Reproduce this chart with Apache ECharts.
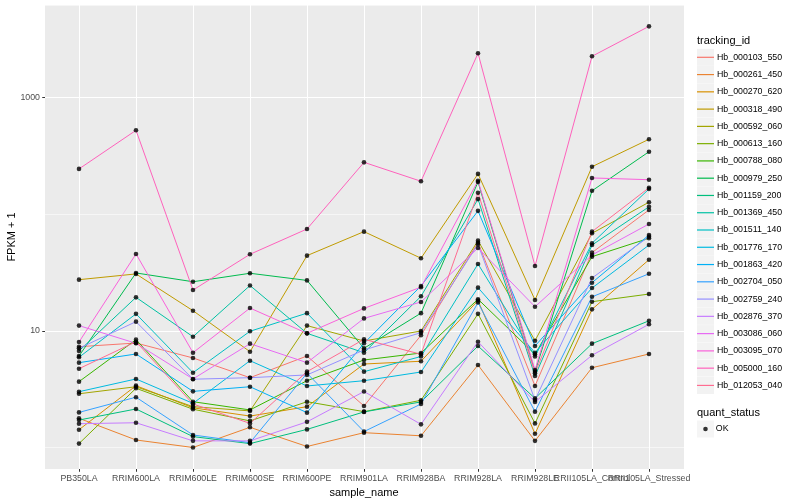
<!DOCTYPE html>
<html>
<head>
<meta charset="utf-8">
<script src="https://cdn.jsdelivr.net/npm/echarts@6/dist/echarts.min.js"></script>
<style>html,body{margin:0;padding:0;background:#fff}#c{width:800px;height:500px}</style>
</head>
<body>
<div id="c"></div>
<script>
// ---------- data ----------
const categories = ['PB350LA','RRIM600LA','RRIM600LE','RRIM600SE','RRIM600PE','RRIM901LA','RRIM928BA','RRIM928LA','RRIM928LE','RRII105LA_Control','RRII105LA_Stressed'];
const trackingIds = ['Hb_000103_550','Hb_000261_450','Hb_000270_620','Hb_000318_490','Hb_000592_060','Hb_000613_160','Hb_000788_080','Hb_000979_250','Hb_001159_200','Hb_001369_450','Hb_001511_140','Hb_001776_170','Hb_001863_420','Hb_002704_050','Hb_002759_240','Hb_002876_370','Hb_003086_060','Hb_003095_070','Hb_005000_160','Hb_012053_040'];
const seriesColors = ['#F8766D','#EA8331','#D89000','#C09B00','#A3A500','#7CAE00','#39B600','#00BB4E','#00BF7D','#00C1A3','#00BFC4','#00BAE0','#00B0F6','#35A2FF','#9590FF','#C77CFF','#E76BF3','#FA62DB','#FF62BC','#FF6C91'];
const quantStatus = ['OK'];
const yTickLabels = [10, 1000];

// FPKM + 1 per sample (order = categories)
const Hb_000103_550 = [7.32, 7.87, 5.86, 3.97, 6.09, 2.27, 9.17, 57.1, 3.37, 46.9, 109];
const Hb_000261_450 = [1.78, 1.16, 1.00, 1.49, 1.02, 1.34, 1.26, 5.10, 1.14, 4.83, 6.34];
const Hb_000270_620 = [1.42, 3.39, 2.19, 1.86, 2.24, 5.20, 5.49, 18.2, 1.31, 15.3, 40.8];
const Hb_000318_490 = [27.5, 30.8, 14.9, 6.63, 44.2, 71.0, 42.0, 222, 18.4, 256, 440];
const Hb_000592_060 = [2.89, 3.32, 2.24, 2.06, 11.1, 8.19, 9.98, 59.4, 8.24, 68.7, 127];
const Hb_000613_160 = [1.08, 3.22, 2.13, 1.69, 2.47, 2.03, 2.54, 14.0, 1.61, 17.8, 20.7];
const Hb_000788_080 = [3.67, 8.41, 2.47, 2.10, 3.74, 5.63, 6.46, 18.7, 6.30, 43.3, 62.3];
const Hb_000979_250 = [6.09, 31.4, 26.4, 31.2, 27.1, 7.09, 14.2, 189, 4.47, 159, 344];
const Hb_001159_200 = [1.72, 2.14, 1.24, 1.08, 1.43, 2.02, 2.46, 7.42, 2.64, 7.77, 12.2];
const Hb_001369_450 = [6.73, 19.4, 8.91, 24.5, 9.53, 6.50, 19.8, 135, 4.10, 54.5, 116];
const Hb_001511_140 = [5.94, 14.0, 4.38, 9.93, 14.2, 4.47, 6.03, 37.5, 6.03, 56.4, 165];
const Hb_001776_170 = [3.01, 3.87, 2.39, 5.55, 3.37, 3.74, 4.44, 23.5, 6.50, 23.3, 54.5];
const Hb_001863_420 = [5.34, 6.34, 3.03, 3.32, 1.99, 7.83, 24.3, 107, 7.42, 25.9, 66.4];
const Hb_002704_050 = [2.00, 2.70, 1.28, 1.10, 4.33, 1.37, 2.36, 17.5, 2.03, 19.6, 30.9];
const Hb_002759_240 = [7.09, 12.0, 3.85, 3.97, 4.19, 6.86, 9.66, 55.3, 2.55, 28.4, 64.3];
const Hb_002876_370 = [1.60, 1.63, 1.14, 1.14, 1.66, 3.02, 1.58, 8.08, 2.46, 6.18, 11.4];
const Hb_003086_060 = [11.1, 7.83, 3.87, 7.77, 5.34, 12.8, 17.7, 51.4, 16.1, 44.8, 82.6];
const Hb_003095_070 = [8.03, 45.7, 6.50, 15.7, 9.53, 15.6, 23.7, 194, 4.62, 205, 198];
const Hb_005000_160 = [245, 525, 22.4, 45.4, 74.8, 279, 192, 2404, 36.0, 2265, 4093];
const Hb_012053_040 = [4.74, 8.08, 2.36, 1.61, 4.47, 8.47, 6.30, 153, 4.33, 71.0, 169];

const seriesValues = [Hb_000103_550, Hb_000261_450, Hb_000270_620, Hb_000318_490, Hb_000592_060, Hb_000613_160, Hb_000788_080, Hb_000979_250, Hb_001159_200, Hb_001369_450, Hb_001511_140, Hb_001776_170, Hb_001863_420, Hb_002704_050, Hb_002759_240, Hb_002876_370, Hb_003086_060, Hb_003095_070, Hb_005000_160, Hb_012053_040];

// ---------- chart ----------
const FONT = '"Liberation Sans", Arial, Helvetica, sans-serif';
const Y_MIN = 0.654, Y_MAX = 6237;
const chart = echarts.init(document.getElementById('c'));

const lineSeries = trackingIds.map((id, i) => ({
  name: id, type: 'line', xAxisIndex: 1, yAxisIndex: 1,
  data: seriesValues[i], symbol: 'none', silent: true,
  color: seriesColors[i],
  itemStyle: { color: seriesColors[i] },
  lineStyle: { width: 1, color: seriesColors[i] },
  z: 2
}));
const points = [];
seriesValues.forEach(vals => vals.forEach((v, j) => points.push([categories[j], v])));
const okSeries = {
  name: quantStatus[0], type: 'scatter', xAxisIndex: 1, yAxisIndex: 1,
  data: points, symbol: 'circle', symbolSize: 4.6, silent: true,
  itemStyle: { color: '#000000' }, z: 3
};

const legendBase = {
  orient: 'vertical', left: 692, selectedMode: false,
  itemGap: 0.27, padding: 5
};

const option = {
  animation: false,
  textStyle: { fontFamily: FONT },
  title: [
    { text: 'tracking_id', left: 697, top: 35, padding: 0,
      textStyle: { fontSize: 11, fontWeight: 'normal', color: '#000', fontFamily: FONT } },
    { text: 'quant_status', left: 697, top: 407, padding: 0,
      textStyle: { fontSize: 11, fontWeight: 'normal', color: '#000', fontFamily: FONT } }
  ],
  legend: [
    Object.assign({}, legendBase, {
      data: trackingIds, top: 43.8, icon: 'rect', itemWidth: 17, itemHeight: 17,
      itemStyle: { color: '#F2F2F2', borderWidth: 0 }, formatter: () => '',
      textStyle: { fontSize: 8.8, lineHeight: 17 }
    }),
    Object.assign({}, legendBase, {
      data: trackingIds, top: 43.8, icon: 'rect', itemWidth: 17, itemHeight: 1.2,
      textStyle: { fontSize: 8.8, lineHeight: 17, color: '#000', fontFamily: FONT, padding: [0, 0, 0, -2] }
    }),
    Object.assign({}, legendBase, {
      data: quantStatus, top: 415.5, icon: 'rect', itemWidth: 17, itemHeight: 17,
      itemStyle: { color: '#F2F2F2', borderWidth: 0 }, formatter: () => '',
      textStyle: { fontSize: 8.8, lineHeight: 17 }
    }),
    Object.assign({}, legendBase, {
      data: quantStatus, top: 415.5, left: 698.2, icon: 'circle', itemWidth: 4.6, itemHeight: 4.6,
      itemStyle: { color: '#000' },
      textStyle: { fontSize: 8.8, lineHeight: 17, color: '#000', fontFamily: FONT, padding: [0, 0, 0, 3] }
    })
  ],
  grid: [
    { left: 45, top: 5, width: 639, height: 464, show: true, backgroundColor: '#EBEBEB', borderWidth: 0,
      containLabel: false, outerBoundsMode: 'none' },
    { left: 79, top: 5, width: 570, height: 464, show: false, containLabel: false, outerBoundsMode: 'none' }
  ],
  xAxis: [
    { gridIndex: 0, type: 'value', show: false, min: 0, max: 1 },
    { gridIndex: 1, type: 'category', data: categories, boundaryGap: false,
      axisLine: { show: false },
      axisTick: { show: true, length: 2.75, lineStyle: { color: '#333333', width: 1 } },
      axisLabel: { interval: 0, hideOverlap: false, fontSize: 8.8, color: '#4D4D4D', margin: 5, fontFamily: FONT },
      splitLine: { show: true, interval: 0, lineStyle: { color: '#FFFFFF', width: 1 } },
      name: 'sample_name', nameLocation: 'middle', nameGap: 14,
      nameTextStyle: { fontSize: 11, color: '#000', fontFamily: FONT }
    }
  ],
  yAxis: [
    { gridIndex: 0, type: 'log', logBase: 10, min: Y_MIN, max: Y_MAX,
      axisLine: { show: false },
      axisTick: { show: false },
      axisLabel: { show: false },
      splitLine: { show: true, lineStyle: { color: ['#FFFFFF', '#F6F6F6'], width: 1 } },
      name: 'FPKM + 1', nameLocation: 'middle', nameGap: 28, nameRotate: 90,
      nameTextStyle: { fontSize: 11, color: '#000', fontFamily: FONT }
    },
    { gridIndex: 1, type: 'log', logBase: 10, min: Y_MIN, max: Y_MAX, position: 'left', offset: 34,
      axisLine: { show: false },
      axisTick: { show: true, customValues: yTickLabels, length: 2.75, lineStyle: { color: '#333333', width: 1 } },
      axisLabel: { show: true, customValues: yTickLabels, fontSize: 8.8, color: '#4D4D4D', margin: 5, fontFamily: FONT,
        formatter: v => String(Math.round(v)) },
      splitLine: { show: false } }
  ],
  series: lineSeries.concat([okSeries])
};
chart.setOption(option);
</script>
</body>
</html>
